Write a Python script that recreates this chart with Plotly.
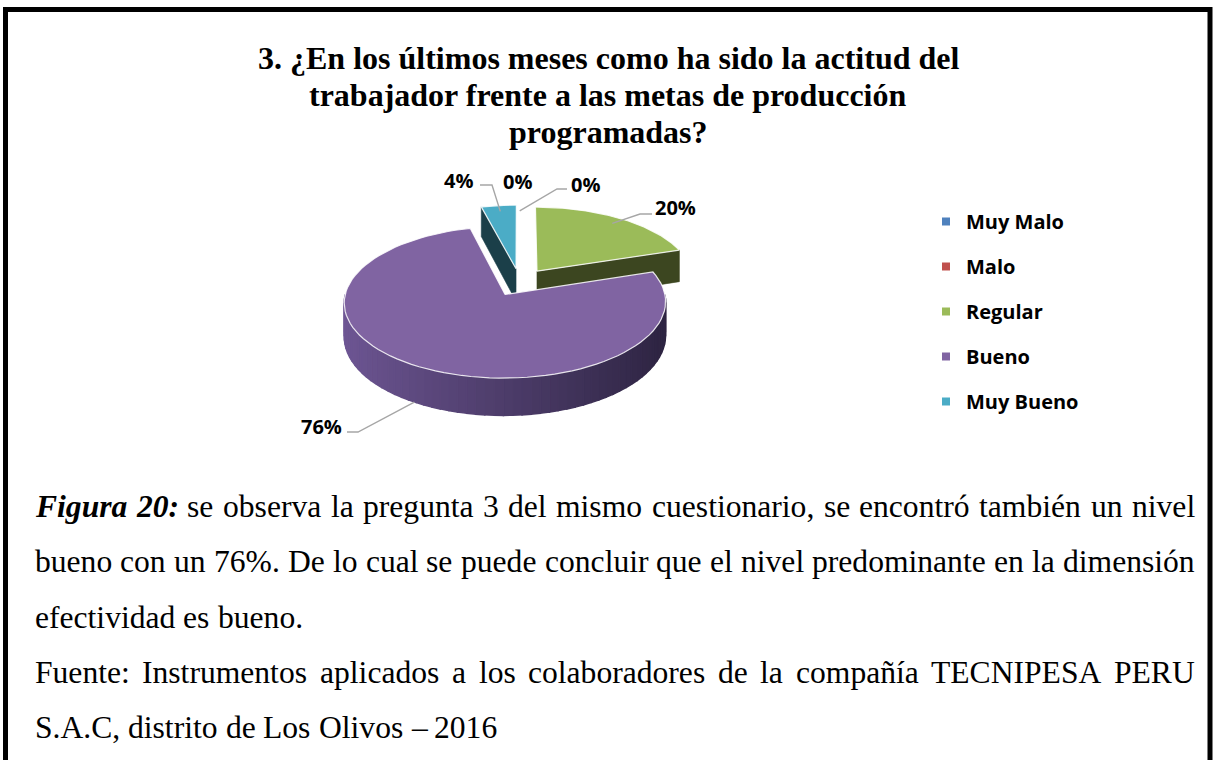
import math
import plotly.graph_objects as go

# ---------------- data ----------------
categories = ["Muy Malo", "Malo", "Regular", "Bueno", "Muy Bueno"]
percent_values = [0, 0, 20, 76, 4]
slice_colors = ["#4F81BD", "#C0504D", "#9BBB59", "#8064A2", "#4BACC6"]
side_light = ["#34557F", "#7A3331", "#46532A", "#6E5694", "#26586A"]
side_dark = ["#233A57", "#522321", "#3C4620", "#2C2340", "#1B3F49"]

title_lines = [
    "3. ¿En los últimos meses como ha sido la actitud del",
    "trabajador frente a las metas de producción",
    "programadas?",
]
caption_lines = [
    "Figura 20: se observa la pregunta 3 del mismo cuestionario, se encontró también un nivel",
    "bueno con un 76%. De lo cual se puede concluir que el nivel predominante en la dimensión",
    "efectividad es bueno.",
    "Fuente: Instrumentos aplicados a los colaboradores de la compañía TECNIPESA PERU",
    "S.A.C, distrito de Los Olivos – 2016",
]
caption_justified = [True, True, False, True, False]
caption_bold_italic_words = ["Figura", "20:"]

# ---------------- layout constants ----------------
W, H = 1215, 760
CX, CY = 519.7, 282.2      # pie centre (px)
RX, RY = 157.2, 72.6       # radii of top face (before perspective)
PERSP = 0.10               # perspective strength (back smaller, front larger)
DEPTH = 33                 # thickness of the 3-D pie
EXPLODE = 0.19             # explosion as fraction of radius
N_ARC = 90
LABEL_FONT = dict(family="Open Sans", size=20, color="#000000", weight="bold")
SERIF = "Liberation Serif"
TITLE_SIZE = 32
CAP_SIZE = 31.6
CAP_LEFT, CAP_RIGHT = 35, 1195
CAP_BASELINES = [517, 572, 627.5, 683, 738]
TITLE_BASELINES = [68, 105, 142]

# label placement (layout positions for the data labels)
label_pos = [(517, 181), (585, 184), (675, 207), (321, 426), (458, 180)]
leader_elbow = [None, (557, 189), (640, 214), (358, 432), (492, 185)]
leader_tail_dx = [0, 10, 12, -11, -12]


def project(X, Z, dz=0.0):
    s = 1.0 / (1.0 + PERSP * Z)
    return CX + RX * X * s, CY - RY * Z * s + dz * s


def rim(sl, ang, r=1.0, dz=0.0):
    a = math.radians(ang)
    return project(sl["ox"] + r * math.sin(a), sl["oz"] + r * math.cos(a), dz)


def mix(c1, c2, f):
    a = [int(c1[i:i + 2], 16) for i in (1, 3, 5)]
    b = [int(c2[i:i + 2], 16) for i in (1, 3, 5)]
    return "rgb(%d,%d,%d)" % tuple(round(a[k] + (b[k] - a[k]) * f) for k in range(3))


fig = go.Figure()


def poly(pts, color, line_color=None, lw=0.6):
    xs = [p[0] for p in pts] + [pts[0][0]]
    ys = [p[1] for p in pts] + [pts[0][1]]
    fig.add_trace(go.Scatter(
        x=xs, y=ys, mode="lines", fill="toself",
        fillcolor=color, line=dict(color=line_color or color, width=lw),
        hoverinfo="skip", showlegend=False))


# ---------------- slice geometry from the data ----------------
total = float(sum(percent_values))
slices = []
start = 0.0
for i, v in enumerate(percent_values):
    span = 360.0 * v / total
    mid = start + span / 2.0
    slices.append(dict(i=i, start=start, end=start + span, mid=mid, span=span,
                       ox=EXPLODE * math.sin(math.radians(mid)),
                       oz=EXPLODE * math.cos(math.radians(mid))))
    start += span

# painter's order: back slices first
for s in sorted([s for s in slices if s["span"] > 0], key=lambda s: -s["oz"]):
    i = s["i"]
    a0, a1 = s["start"], s["end"]
    c_top = project(s["ox"], s["oz"])
    c_bot = project(s["ox"], s["oz"], DEPTH)
    # radial cut faces
    for ang, normal in ((a0, a0 - 90), (a1, a1 + 90)):
        if math.cos(math.radians(normal)) < -1e-6:
            poly([c_top, rim(s, ang), rim(s, ang, dz=DEPTH), c_bot], side_dark[i])
    # outer wall (front half only), gradient strips
    lo, hi = max(a0, 90.0), min(a1, 270.0)
    if hi > lo:
        n = max(1, int((hi - lo) / 3))
        for k in range(n):
            t1 = lo + (hi - lo) * k / n
            t2 = lo + (hi - lo) * (k + 1) / n
            ts = [t1 + (t2 - t1) * j / 4 for j in range(5)]
            pts = [rim(s, t) for t in ts] + [rim(s, t, dz=DEPTH) for t in reversed(ts)]
            f = (1 - math.sin(math.radians((t1 + t2) / 2))) / 2
            poly(pts, mix(side_dark[i], side_light[i], f), lw=1.4)
    # top face
    arc = [rim(s, a0 + (a1 - a0) * j / N_ARC) for j in range(N_ARC + 1)]
    poly([c_top] + arc, slice_colors[i], line_color="rgba(255,255,255,0.85)", lw=1.2)

# ---------------- leader lines and data labels ----------------
annotations = []
for s in slices:
    i = s["i"]
    front = math.cos(math.radians(s["mid"])) < 0
    anchor = rim(s, s["mid"], r=1.05 if front else 0.9,
                 dz=0.85 * DEPTH if front else 0)
    if leader_elbow[i] is not None:
        ex, ey = leader_elbow[i]
        fig.add_trace(go.Scatter(
            x=[anchor[0], ex, ex + leader_tail_dx[i]], y=[anchor[1], ey, ey],
            mode="lines", line=dict(color="#A6A6A6", width=1.4),
            hoverinfo="skip", showlegend=False))
    lx, ly = label_pos[i]
    annotations.append(dict(x=lx, y=ly, xref="x", yref="y", showarrow=False,
                            text="%d%%" % percent_values[i], font=LABEL_FONT,
                            xanchor="center", yanchor="middle"))

# ---------------- legend entries ----------------
for i, c in enumerate(categories):
    fig.add_trace(go.Scatter(
        x=[None], y=[None], mode="markers", name=c, legendgroup=c,
        marker=dict(symbol="square", size=8, color=slice_colors[i])))

# ---------------- title ----------------
for line, base in zip(title_lines, TITLE_BASELINES):
    annotations.append(dict(x=608, y=base - 0.32 * TITLE_SIZE, xref="x", yref="y",
                            showarrow=False, text=line, xanchor="center",
                            yanchor="middle",
                            font=dict(family=SERIF, size=TITLE_SIZE,
                                      color="#000000", weight="bold")))

# ---------------- caption (justified like the source document) ----------------
TR = {' ': 250, '%': 833, ',': 250, '.': 250, ':': 278, '–': 500, '-': 333,
      'A': 722, 'B': 667, 'C': 667, 'D': 722, 'E': 611, 'F': 556, 'G': 722,
      'H': 722, 'I': 333, 'J': 389, 'K': 722, 'L': 611, 'M': 889, 'N': 722,
      'O': 722, 'P': 556, 'Q': 722, 'R': 667, 'S': 556, 'T': 611, 'U': 722,
      'V': 722, 'W': 944, 'X': 722, 'Y': 722, 'Z': 611,
      'a': 444, 'b': 500, 'c': 444, 'd': 500, 'e': 444, 'f': 333, 'g': 500,
      'h': 500, 'i': 278, 'j': 278, 'k': 500, 'l': 278, 'm': 778, 'n': 500,
      'o': 500, 'p': 500, 'q': 500, 'r': 333, 's': 389, 't': 278, 'u': 500,
      'v': 500, 'w': 722, 'x': 500, 'y': 500, 'z': 444,
      'á': 444, 'é': 444, 'í': 278, 'ó': 500, 'ú': 500, 'ñ': 500}
BI = {'F': 667, 'i': 278, 'g': 500, 'u': 556, 'r': 389, 'a': 500, '2': 500,
      '0': 500, ':': 333, ' ': 250}


def wwidth(w, bi):
    table = BI if bi else TR
    return sum(table.get(ch, 500) for ch in w) / 1000.0 * CAP_SIZE


cap_font = dict(family=SERIF, size=CAP_SIZE, color="#000000")
for li, (line, just, base) in enumerate(zip(caption_lines, caption_justified,
                                            CAP_BASELINES)):
    yc = base - 0.32 * CAP_SIZE
    words = line.split(" ")
    bis = [li == 0 and w in caption_bold_italic_words for w in words]
    widths = [wwidth(w, b) for w, b in zip(words, bis)]
    if just:
        gap = (CAP_RIGHT - CAP_LEFT - sum(widths)) / (len(words) - 1)
    else:
        gap = TR[' '] / 1000.0 * CAP_SIZE
    x = CAP_LEFT
    for w, b, wd in zip(words, bis, widths):
        txt = "<b><i>%s</i></b>" % w if b else w
        annotations.append(dict(x=x, y=yc, xref="x", yref="y", showarrow=False,
                                text=txt, xanchor="left", yanchor="middle",
                                borderpad=0, borderwidth=0, font=cap_font))
        x += wd + gap

# ---------------- page frame ----------------
shapes = [dict(type="rect", xref="x", yref="y", x0=5.5, y0=9.5, x1=1210, y1=790,
               line=dict(color="#000000", width=5), fillcolor="rgba(0,0,0,0)")]

fig.update_layout(
    width=W, height=H, margin=dict(l=0, r=0, t=0, b=0),
    paper_bgcolor="white", plot_bgcolor="white",
    xaxis=dict(range=[0, W], visible=False, fixedrange=True),
    yaxis=dict(range=[H, 0], visible=False, fixedrange=True),
    showlegend=True,
    legend=dict(x=926 / W, y=1 - 202 / H, xanchor="left", yanchor="top",
                font=LABEL_FONT, tracegroupgap=16, bgcolor="rgba(0,0,0,0)",
                traceorder="grouped"),
    annotations=annotations, shapes=shapes,
)

fig.write_html("out.html", config={"displayModeBar": False},
               post_script="document.body.style.margin='0';"
                           "document.body.style.overflow='hidden';")
